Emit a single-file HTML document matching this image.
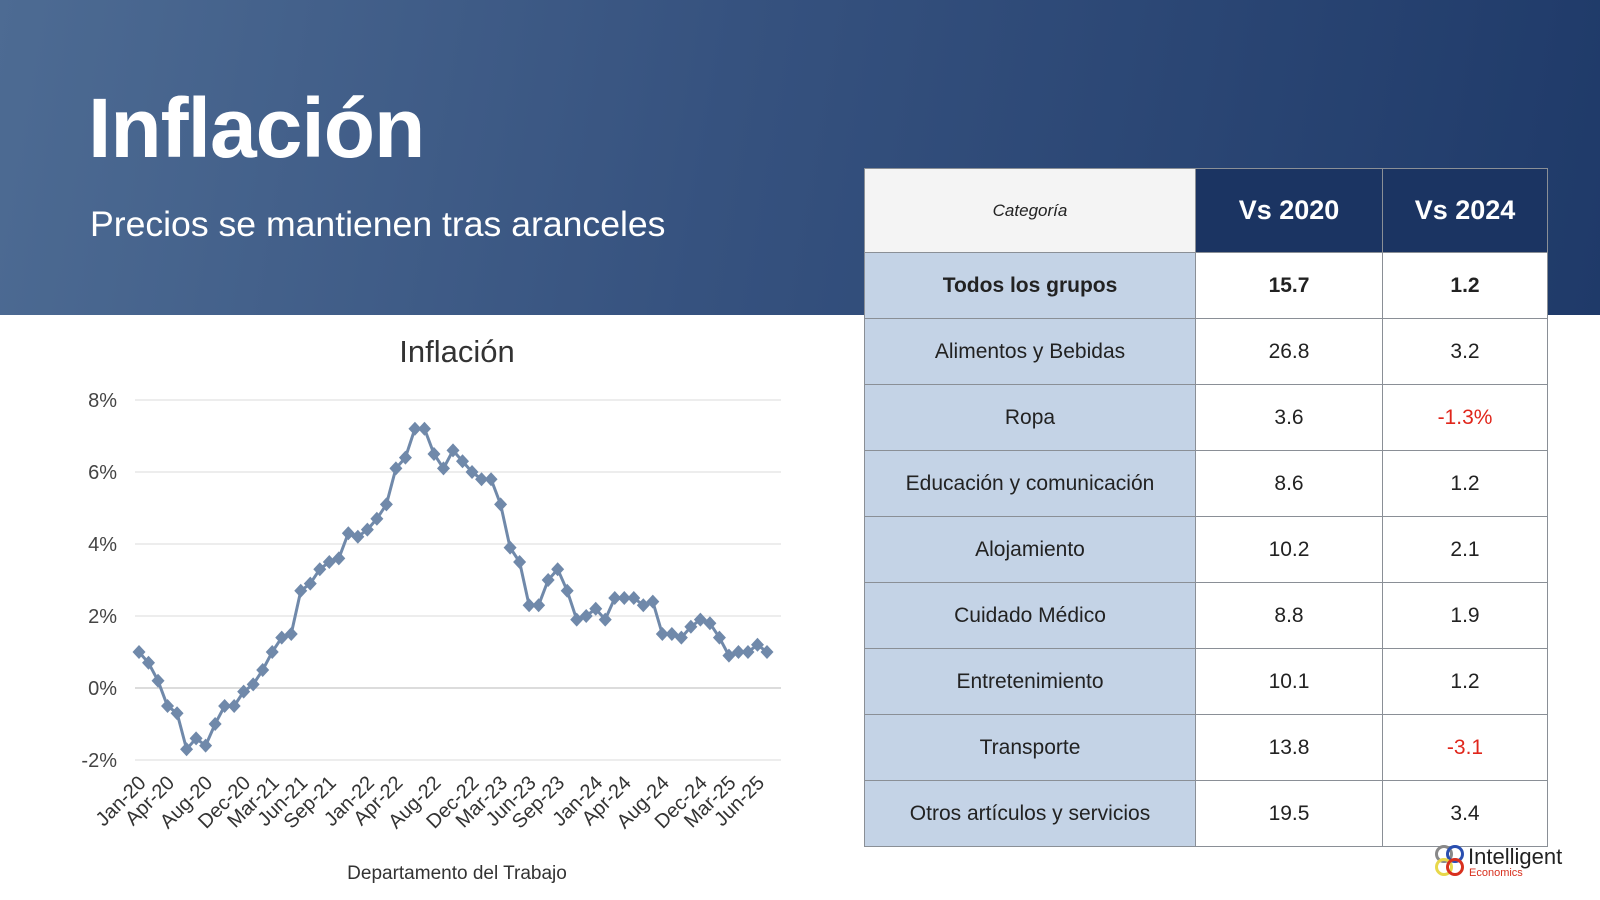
<!DOCTYPE html>
<html><head><meta charset="utf-8"><style>
body{margin:0;width:1600px;height:900px;overflow:hidden;background:#fff;font-family:"Liberation Sans",sans-serif;position:relative}
#hdr{position:absolute;left:0;top:0;width:1600px;height:315px;background:linear-gradient(100deg,#4d6b93 0%,#36527f 45%,#1f3a69 100%)}
#t{position:absolute;left:88px;top:80px;font-size:84px;font-weight:bold;color:#fff;letter-spacing:-1px}
#st{position:absolute;left:90px;top:204px;font-size:35.6px;color:#fff}
table{position:absolute;left:864px;top:168px;border-collapse:collapse;font-size:21px;color:#222}
td{border:1.5px solid #8a8f96;text-align:center;height:65px;padding:0}
tr.h td{height:83px}
td.c{background:#c4d3e6;width:330px}
td.v{background:#fff;width:186px}
td.w{background:#fff;width:164px}
.r{color:#e0261b}
</style></head><body>
<div id="hdr"></div>
<div id="t">Inflación</div>
<div id="st">Precios se mantienen tras aranceles</div>
<svg id="ch" width="1600" height="900" style="position:absolute;left:0;top:0"></svg>
<table>
<tr class="h"><td style="background:#f4f4f4;width:330px;font-style:italic;font-size:17px">Categoría</td><td style="background:#1b3462;color:#fff;font-weight:bold;font-size:27px;width:186px">Vs 2020</td><td style="background:#1b3462;color:#fff;font-weight:bold;font-size:27px;width:164px">Vs 2024</td></tr>
<tr style="font-weight:bold"><td class="c">Todos los grupos</td><td class="v">15.7</td><td class="w">1.2</td></tr>
<tr><td class="c">Alimentos y Bebidas</td><td class="v">26.8</td><td class="w">3.2</td></tr>
<tr><td class="c">Ropa</td><td class="v">3.6</td><td class="w r">-1.3%</td></tr>
<tr><td class="c">Educación y comunicación</td><td class="v">8.6</td><td class="w">1.2</td></tr>
<tr><td class="c">Alojamiento</td><td class="v">10.2</td><td class="w">2.1</td></tr>
<tr><td class="c">Cuidado Médico</td><td class="v">8.8</td><td class="w">1.9</td></tr>
<tr><td class="c">Entretenimiento</td><td class="v">10.1</td><td class="w">1.2</td></tr>
<tr><td class="c">Transporte</td><td class="v">13.8</td><td class="w r">-3.1</td></tr>
<tr><td class="c">Otros artículos y servicios</td><td class="v">19.5</td><td class="w">3.4</td></tr>
</table>
<div style="position:absolute;left:1435px;top:845px;width:26px;height:34px">
<div style="position:absolute;left:0;top:0;width:12px;height:12px;border:3px solid #888;border-radius:50%"></div>
<div style="position:absolute;left:11px;top:0;width:12px;height:12px;border:3px solid #2a4fb0;border-radius:50%"></div>
<div style="position:absolute;left:0;top:13px;width:12px;height:12px;border:3px solid #e8d84a;border-radius:50%"></div>
<div style="position:absolute;left:11px;top:13px;width:12px;height:12px;border:3px solid #d8301e;border-radius:50%"></div>
</div>
<div style="position:absolute;left:1468px;top:844px;font-size:22px;color:#222">Intelligent</div>
<div style="position:absolute;left:1469px;top:867px;font-size:11px;color:#d8301e">Economics</div>
<script>
var d=[1.0,0.7,0.2,-0.5,-0.7,-1.7,-1.4,-1.6,-1.0,-0.5,-0.5,-0.1,0.1,0.5,1.0,1.4,1.5,2.7,2.9,3.3,3.5,3.6,4.3,4.2,4.4,4.7,5.1,6.1,6.4,7.2,7.2,6.5,6.1,6.6,6.3,6.0,5.8,5.8,5.1,3.9,3.5,2.3,2.3,3.0,3.3,2.7,1.9,2.0,2.2,1.9,2.5,2.5,2.5,2.3,2.4,1.5,1.5,1.4,1.7,1.9,1.8,1.4,0.9,1.0,1.0,1.2,1.0];
var s='',x0=139,x1=767,n=d.length,dx=(x1-x0)/(n-1);
function Y(v){return 688-v*36;}
for(var g=-2;g<=8;g+=2){var y=Y(g);s+='<line x1="135" x2="781" y1="'+y+'" y2="'+y+'" stroke="'+(g==0?'#c8c8c8':'#e2e2e2')+'" stroke-width="1.3"/>';s+='<text x="117" y="'+(y+7)+'" text-anchor="end" font-size="20" fill="#444" font-family="Liberation Sans">'+g+'%</text>';}
var p='';for(var i=0;i<n;i++)p+=(x0+i*dx).toFixed(1)+','+Y(d[i]).toFixed(1)+' ';
s+='<polyline points="'+p+'" fill="none" stroke="#7089aa" stroke-width="3"/>';
for(var i=0;i<n;i++){var x=x0+i*dx,y=Y(d[i]);s+='<polygon points="'+x+','+(y-7)+' '+(x+6.5)+','+y+' '+x+','+(y+7)+' '+(x-6.5)+','+y+'" fill="#7089aa"/>';}
var L=['Jan-20','Apr-20','Aug-20','Dec-20','Mar-21','Jun-21','Sep-21','Jan-22','Apr-22','Aug-22','Dec-22','Mar-23','Jun-23','Sep-23','Jan-24','Apr-24','Aug-24','Dec-24','Mar-25','Jun-25'];
var I=[0,3,7,11,14,17,20,24,27,31,35,38,41,44,48,51,55,59,62,65];
for(var k=0;k<L.length;k++){var x=x0+I[k]*dx+8;s+='<text transform="translate('+x+',784) rotate(-45)" text-anchor="end" font-size="20" fill="#333" font-family="Liberation Sans">'+L[k]+'</text>';}
s+='<text x="457" y="362" text-anchor="middle" font-size="31" fill="#333" font-family="Liberation Sans">Inflación</text>';
s+='<text x="457" y="879" text-anchor="middle" font-size="19" fill="#333" font-family="Liberation Sans">Departamento del Trabajo</text>';
document.getElementById('ch').innerHTML=s;
</script>
</body></html>
